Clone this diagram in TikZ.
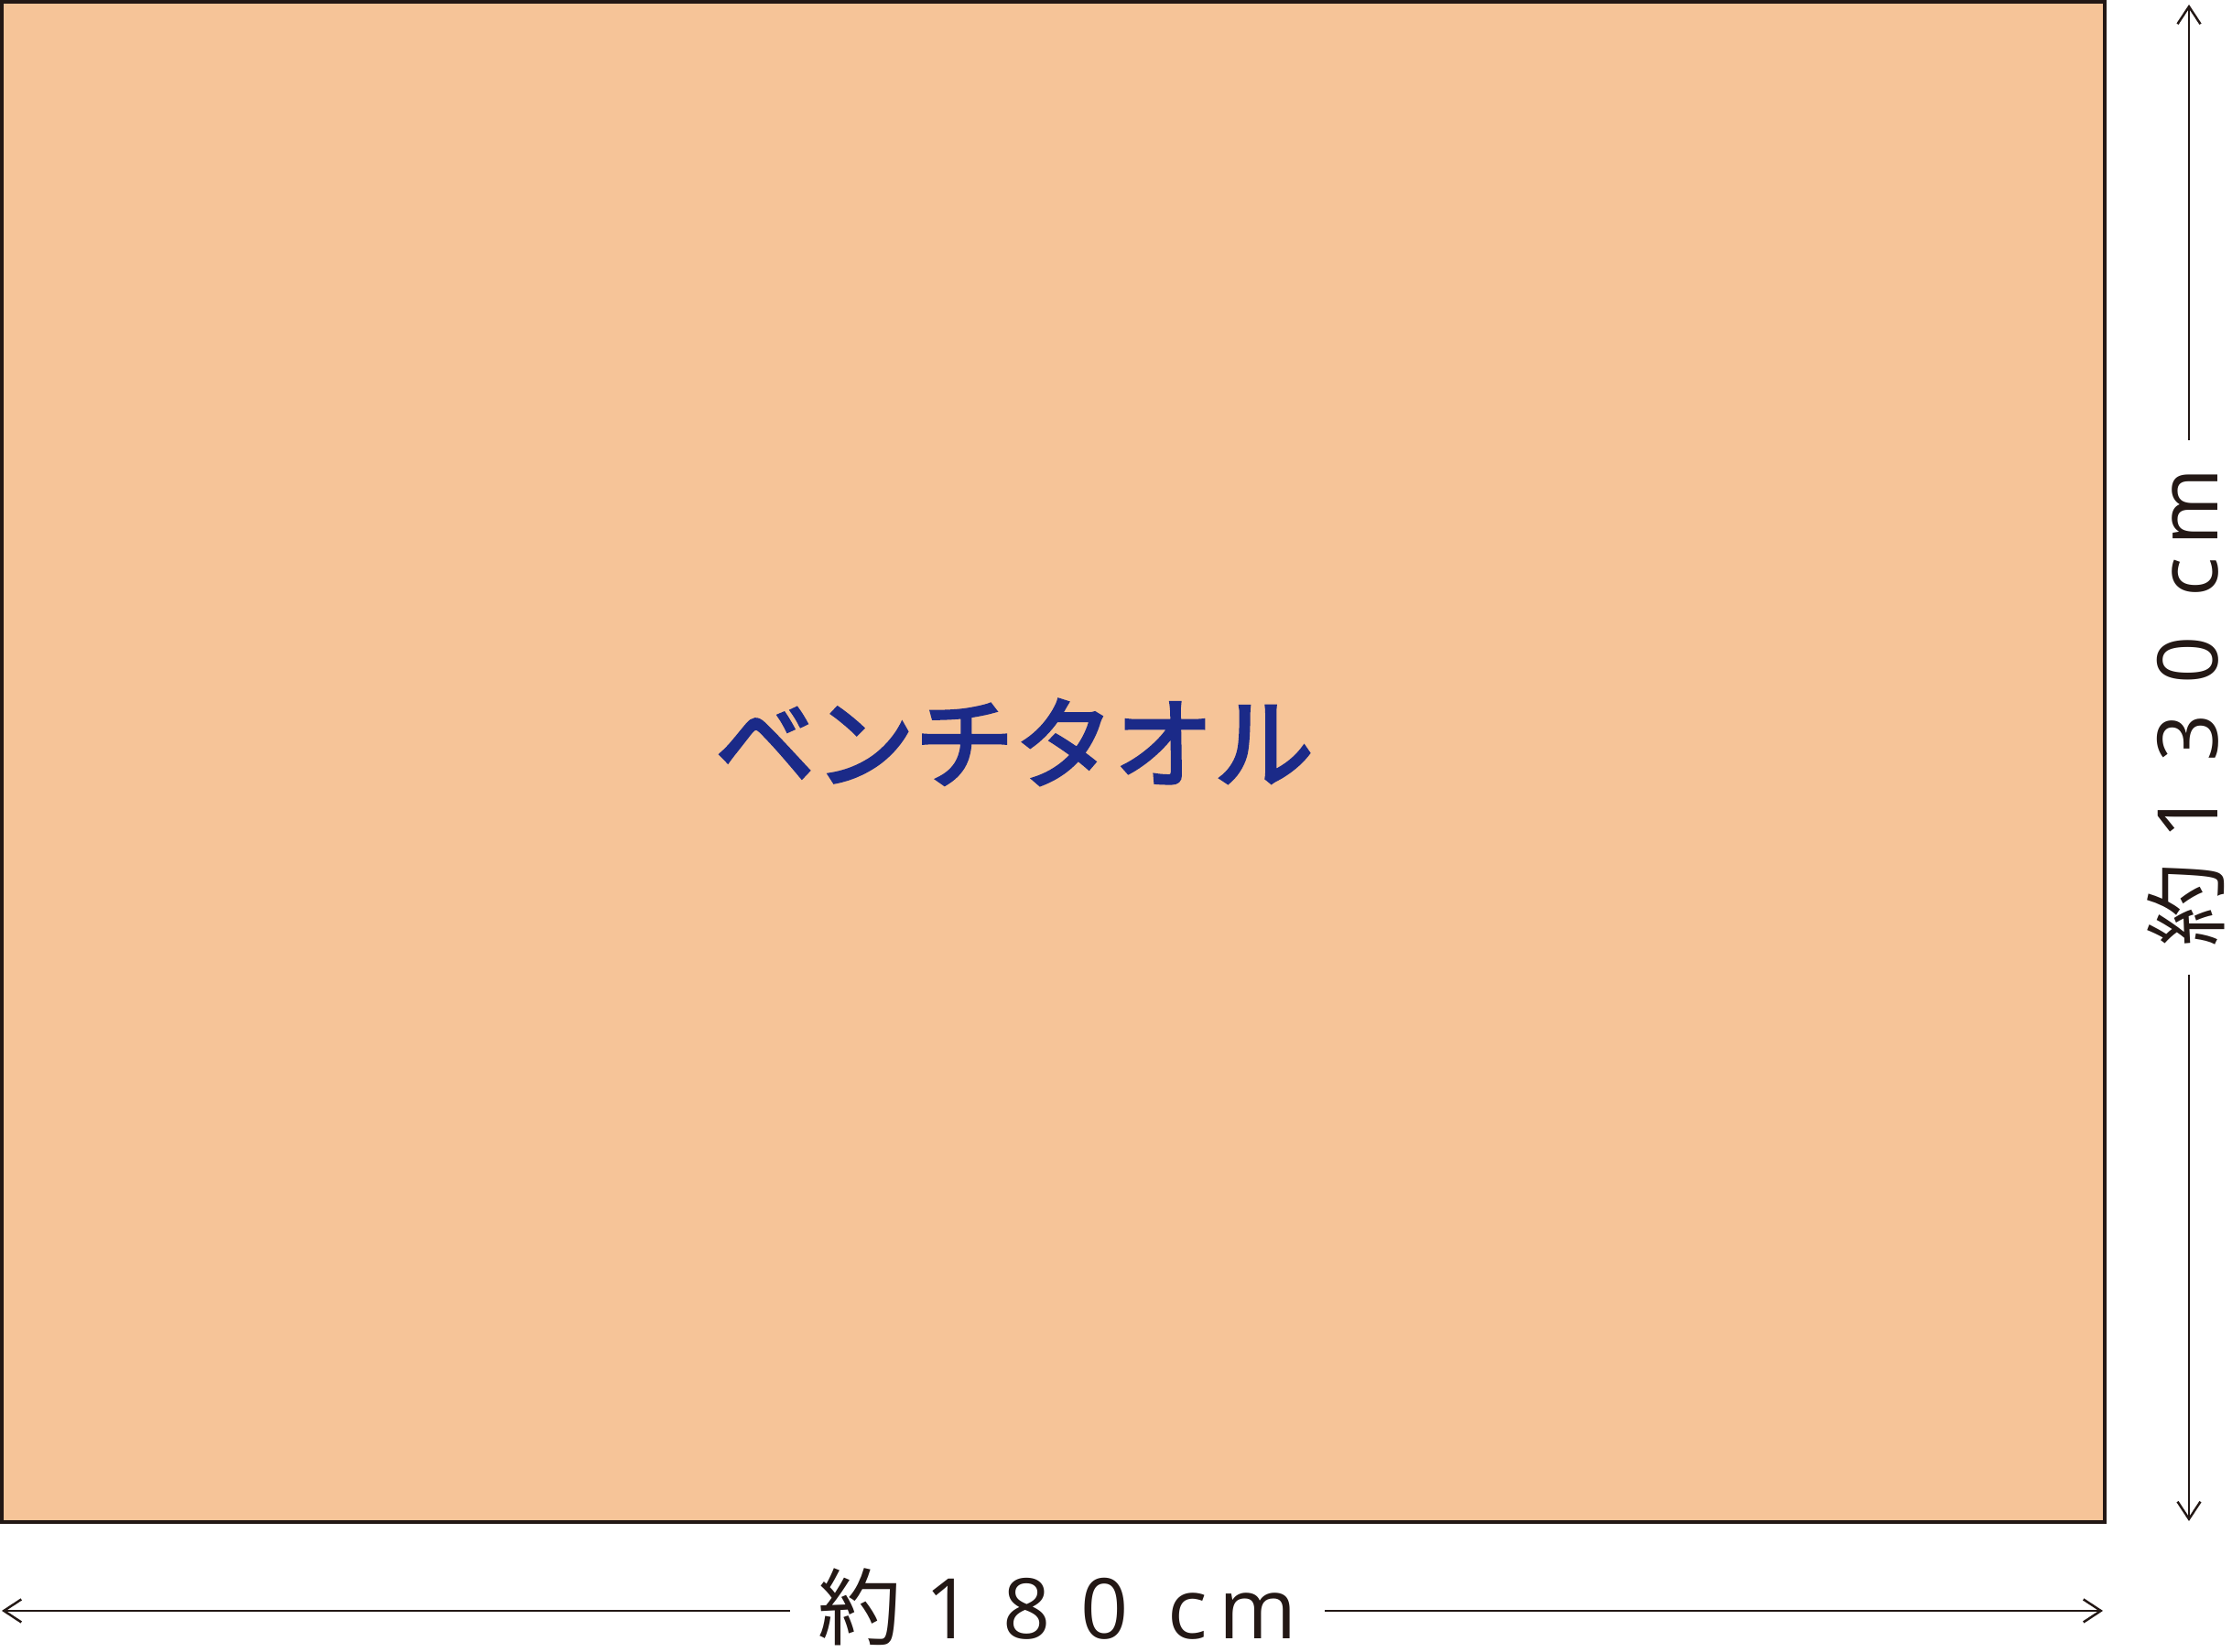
\documentclass[tikz,border=0pt]{standalone}
\usepackage{fontspec}
\newfontfamily\jpfont{Noto Sans CJK JP}
\newfontfamily\numfont{Open Sans}
\usetikzlibrary{arrows.meta}
\definecolor{towel}{RGB}{246,196,152}
\definecolor{towelblue}{RGB}{27,42,136}
\definecolor{inkblack}{RGB}{35,24,21}
% 約 + three spaced digits + cm
\newcommand{\aboutcm}[3]{約\hspace{0.25cm}{\numfont #1\hspace{0.33cm}#2\hspace{0.33cm}#3\hspace{0.43cm}c\hspace{0.12cm}m}}

\begin{document}
\begin{tikzpicture}[
		dim/.style={draw=inkblack, line width=0.02cm, -{Straight Barb[length=0.19cm,width=0.25cm,line width=0.025cm]}},
		dimlabel/.style={text=inkblack, inner sep=0pt, inner xsep=0.3cm, text height=0.81cm, text depth=0.19cm, font=\jpfont\fontsize{26}{26}\selectfont},
	]
	\useasboundingbox (0,0) rectangle (24.38,18.05);
	% towel
	\draw[draw=inkblack, line width=0.04cm, fill=towel] (0.02,1.42) rectangle (22.99,18.03);
	\node[text=towelblue, font=\jpfont\addfontfeature{FakeBold=3}\fontsize{31}{31}\selectfont] (name) at (11.08,9.94) {ベンチタオル};
	% width
	\coordinate (wl) at (0.02,0.45);
	\coordinate (wr) at (22.97,0.45);
	\node[dimlabel] (wtxt) at (11.55,0.45) {\aboutcm{1}{8}{0}};
	\foreach \e in {wl,wr} {
		\draw[dim] (wtxt) -- (\e);
	}
	% height
	\coordinate (ht) at (23.91,18.00);
	\coordinate (hb) at (23.91,1.43);
	\node[dimlabel, rotate=90] (htxt) at (23.91,10.32) {\aboutcm{1}{3}{0}};
	\foreach \e in {ht,hb} {
		\draw[dim] (htxt) -- (\e);
	}
\end{tikzpicture}
\end{document}
